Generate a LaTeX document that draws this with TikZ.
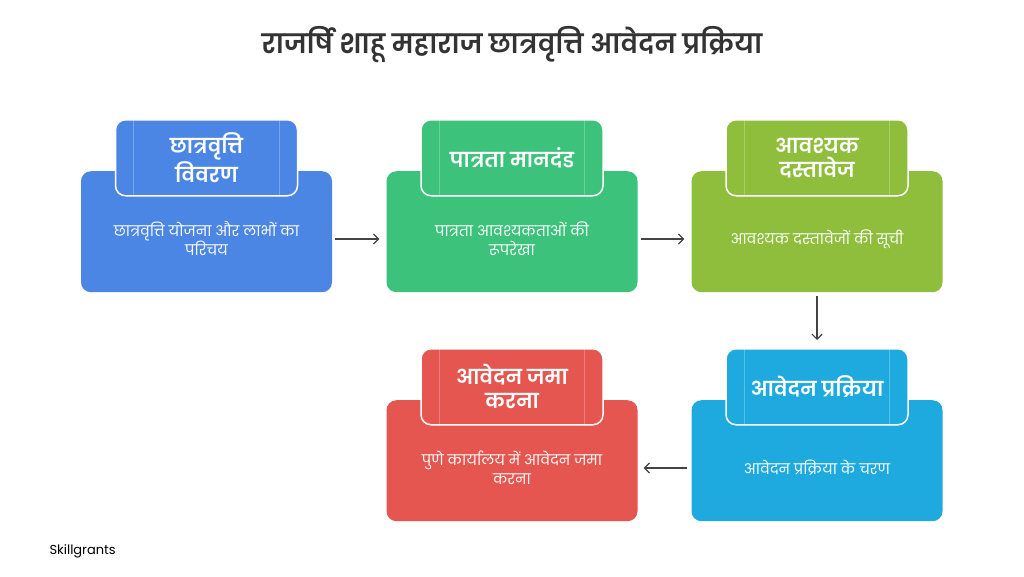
\documentclass[tikz,border=0pt]{standalone}
\usepackage{fontspec}
\setmainfont{Poppins}
\newfontfamily\dev[Script=Devanagari]{Poppins}
\newfontfamily\devb[Script=Devanagari]{Poppins SemiBold}
\usetikzlibrary{arrows.meta}
\definecolor{cblue}{HTML}{4C86E4}
\definecolor{cgreen}{HTML}{3DC27B}
\definecolor{colive}{HTML}{8EBE3B}
\definecolor{ccyan}{HTML}{1EAADF}
\definecolor{cred}{HTML}{E4564F}
\definecolor{carrow}{HTML}{444444}
\definecolor{ctitle}{HTML}{333333}
\tikzset{
  bodybox/.style={rounded corners=10pt, minimum width=251pt, minimum height=121pt, inner sep=0pt},
  bodytext/.style={text=white, align=center, font=\dev\fontsize{14.5}{19}\selectfont},
  tabbox/.style={rounded corners=10pt, draw=white, line width=1.5pt, minimum width=182pt, minimum height=76pt, inner sep=0pt, text=white, align=center, font=\devb\fontsize{20.5}{24}\selectfont},
  flow/.style={carrow, line width=1.2pt, -{Straight Barb[length=5pt,width=10pt]}},
}
\newcommand{\stage}[6]{%
  % #1 name, #2 x center, #3 y body top, #4 colour, #5 tab text, #6 body text
  \node[bodybox, fill=#4, anchor=north] (#1) at (#2,#3) {};
  \node[bodytext] (#1t) at (#2,#3+68) {#6};
  \node[tabbox, fill=#4, anchor=north] (#1h) at (#2,#3-52) {#5};
  \draw[white, opacity=0.25, line width=0.6pt] ([xshift=19pt]#1h.north west) -- ([xshift=19pt]#1h.south west);
  \draw[white, opacity=0.25, line width=0.6pt] ([xshift=-19pt]#1h.north east) -- ([xshift=-19pt]#1h.south east);
}
\begin{document}
\begin{tikzpicture}[x=1pt,y=-1pt]
\useasboundingbox[fill=white] (0,0) rectangle (1024,576);
\node[font=\devb\fontsize{26.6}{30}\selectfont, text=ctitle] (title) at (512,45) {राजर्षि शाहू महाराज छात्रवृत्ति आवेदन प्रक्रिया};
\stage{a}{206.5}{171}{cblue}{छात्रवृत्ति\\विवरण}{छात्रवृत्ति योजना और लाभों का\\परिचय}
\stage{b}{512}{171}{cgreen}{पात्रता मानदंड}{पात्रता आवश्यकताओं की\\रूपरेखा}
\stage{c}{817}{171}{colive}{आवश्यक\\दस्तावेज}{आवश्यक दस्तावेजों की सूची}
\stage{d}{817}{400}{ccyan}{आवेदन प्रक्रिया}{आवेदन प्रक्रिया के चरण}
\stage{e}{512}{400}{cred}{आवेदन जमा\\करना}{पुणे कार्यालय में आवेदन जमा\\करना}
\draw[flow] ([xshift=3pt]a.east|-at) -- ([xshift=-7pt]b.west|-bt);
\draw[flow] ([xshift=3pt]b.east|-bt) -- ([xshift=-7pt]c.west|-ct);
\draw[flow] ([yshift=-4pt]c.south) -- ([yshift=8pt]dh.north);
\draw[flow] ([xshift=-4pt]d.west|-dt) -- ([xshift=6pt]e.east|-et);
\node[font=\fontsize{13}{15}\selectfont, text=black, anchor=west] (brand) at (46,551) {Skillgrants};
\end{tikzpicture}
\end{document}
